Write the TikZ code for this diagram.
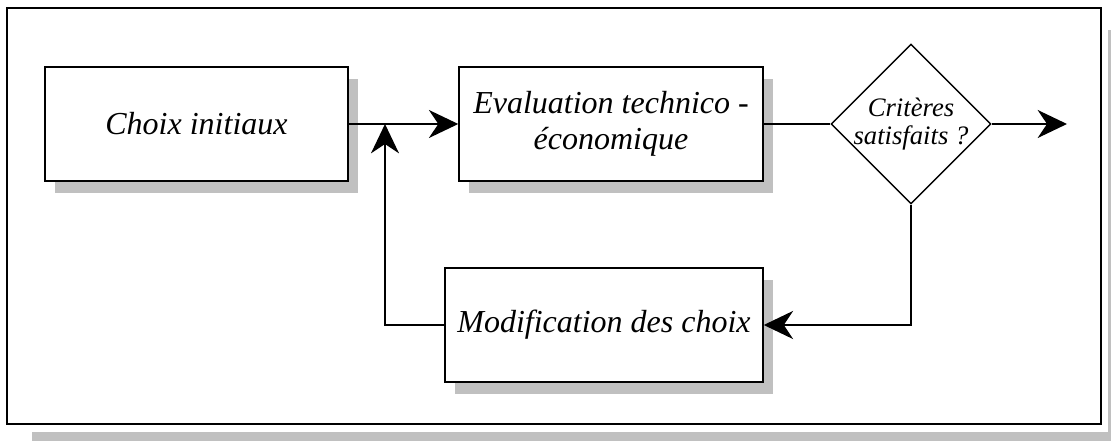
\documentclass[tikz,border=0pt]{standalone}
\usepackage{fontspec}
\setmainfont{Liberation Serif}
\usetikzlibrary{shapes.geometric,arrows.meta,shadows}
\definecolor{shadowgrey}{RGB}{192,192,192}
\tikzset{
  boxshadow/.style={drop shadow={shadow xshift=7.5pt, shadow yshift=-9pt, fill=shadowgrey, opacity=1}},
  procbox/.style={draw, line width=1.1pt, fill=white, boxshadow, minimum height=114*0.75pt,
     inner sep=0pt, align=center, font=\itshape\fontsize{24}{27}\selectfont},
  decision/.style={draw, diamond, line width=1.1pt, fill=white, minimum width=160*0.75pt,
     minimum height=160*0.75pt, inner sep=0pt},
  conn/.style={line width=1.1pt},
  thickconn/.style={line width=2.2pt},
  bigtip/.style={-{Stealth[length=22pt, width=21pt, inset=7pt]}},
}
\begin{document}
\begin{tikzpicture}[x=0.75pt, y=-0.75pt]
\useasboundingbox (0,0) rectangle (1111,441);
% frame shadow
\fill[shadowgrey] (32,432) rectangle (1111,441);
\fill[shadowgrey] (1108,30) rectangle (1111,441);
\draw[line width=1.5pt] (7,8) rectangle (1101,424);
% nodes
\node[procbox, minimum width=303*0.75pt] (choix) at (196.5,124) {Choix initiaux};
\node[procbox, minimum width=304*0.75pt] (eval) at (611,124) {Evaluation technico -\\économique};
\node[procbox, minimum width=318*0.75pt] (mod) at (604,325) {Modification des choix};
\node[decision, label={[align=center, font=\itshape\fontsize{20}{21}\selectfont]center:Critères\\satisfaits ?}] (dia) at (911,124) {};
\coordinate (j) at (385,124);
\coordinate (out) at (1067,124);
% connectors
\draw[conn, bigtip] (choix.east) -- (eval.west);
\draw[conn, bigtip] (mod.west) -| (j);
\draw[conn] (eval.east) -- (dia.west);
\draw[conn, bigtip] (dia.east) -- (out);
\draw[thickconn, bigtip] (dia.south) |- (mod.east);
\end{tikzpicture}
\end{document}
